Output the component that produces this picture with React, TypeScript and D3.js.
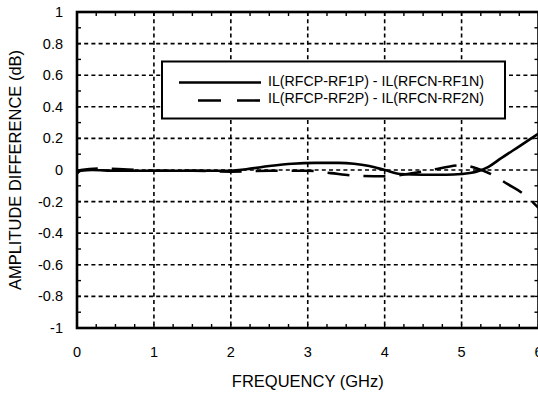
import React from "react";
import * as d3 from "d3";

const freq1 = [0, 0.05, 0.2, 0.5, 1.0, 1.5, 1.9, 2.2, 2.5, 2.8, 3.1, 3.4, 3.6, 3.8, 4.0, 4.2, 4.5, 4.8, 5.0, 5.2, 5.35, 5.5, 5.75, 6.0];
const il1 = [-0.02, -0.005, 0, -0.005, -0.005, -0.005, -0.005, 0.005, 0.025, 0.04, 0.045, 0.045, 0.04, 0.025, 0.0, -0.025, -0.03, -0.03, -0.025, -0.01, 0.02, 0.07, 0.15, 0.23];

const freq2 = [0, 0.05, 0.3, 0.6, 1.0, 1.5, 2.0, 2.5, 3.0, 3.3, 3.6, 4.0, 4.3, 4.6, 5.0, 5.2, 5.4, 5.6, 5.8, 6.0];
const il2 = [-0.02, 0, 0.01, 0.005, -0.005, -0.005, -0.01, -0.005, -0.005, -0.02, -0.035, -0.04, -0.025, 0.0, 0.03, 0.01, -0.03, -0.09, -0.15, -0.24];

const xTicks = [0, 1, 2, 3, 4, 5, 6];
const yTicks = [1, 0.8, 0.6, 0.4, 0.2, 0, -0.2, -0.4, -0.6, -0.8, -1];
const legendLabels = ["IL(RFCP-RF1P) - IL(RFCN-RF1N)", "IL(RFCP-RF2P) - IL(RFCN-RF2N)"];
const xTitle = "FREQUENCY (GHz)";
const yTitle = "AMPLITUDE DIFFERENCE (dB)";

const W = 538, H = 394;
const L = 77, R = 538.5, T = 12, B = 328;
const FONT = "'Liberation Sans', Arial, Helvetica, sans-serif";

export default function App() {
  const x = d3.scaleLinear().domain([0, 6]).range([L, R]);
  const y = d3.scaleLinear().domain([-1, 1]).range([B, T]);
  const line = d3.line<[number, number]>().x(d => x(d[0])).y(d => y(d[1])).curve(d3.curveMonotoneX);
  const s1 = line(freq1.map((f, i) => [f, il1[i]] as [number, number])) || "";
  const s2 = line(freq2.map((f, i) => [f, il2[i]] as [number, number])) || "";
  const xMinor = d3.range(0, 6.001, 0.25);
  const yMinor = d3.range(-1, 1.001, 0.1);

  return (
    <svg width={W} height={H} style={{ position: "absolute", left: 0, top: 0, display: "block" }} fontFamily={FONT}>
      <rect x={0} y={0} width={W} height={H} fill="#fff" />
      <defs>
        <clipPath id="plot"><rect x={L} y={T} width={R - L} height={B - T} /></clipPath>
      </defs>
      {/* grid */}
      {xTicks.slice(1, -1).map(t => (
        <line key={"gx" + t} x1={x(t)} x2={x(t)} y1={T} y2={B} stroke="#000" strokeWidth={1.6} strokeDasharray="4,3.2" />
      ))}
      {yTicks.slice(1, -1).map(t => (
        <line key={"gy" + t} x1={L} x2={R} y1={y(t)} y2={y(t)} stroke="#000" strokeWidth={1.6} strokeDasharray="4,3.2" />
      ))}
      {/* minor ticks */}
      {xMinor.map(t => (
        <g key={"mx" + t}>
          <line x1={x(t)} x2={x(t)} y1={B} y2={B - 4} stroke="#000" strokeWidth={1.4} />
          <line x1={x(t)} x2={x(t)} y1={T} y2={T + 4} stroke="#000" strokeWidth={1.4} />
        </g>
      ))}
      {yMinor.map(t => (
        <g key={"my" + t}>
          <line x1={L} x2={L + 4} y1={y(t)} y2={y(t)} stroke="#000" strokeWidth={1.4} />
          <line x1={R} x2={R - 4} y1={y(t)} y2={y(t)} stroke="#000" strokeWidth={1.4} />
        </g>
      ))}
      {/* data */}
      <g clipPath="url(#plot)">
        <path d={s1} fill="none" stroke="#000" strokeWidth={2.6} />
        <path d={s2} fill="none" stroke="#000" strokeWidth={2.6} strokeDasharray="22,14" />
      </g>
      {/* frame */}
      <rect x={L} y={T} width={R - L} height={B - T} fill="none" stroke="#000" strokeWidth={2.6} />
      {/* legend */}
      <rect x={162} y={61.5} width={343} height={57} fill="#fff" stroke="#000" strokeWidth={2} />
      <line x1={179} x2={261} y1={82.5} y2={82.5} stroke="#000" strokeWidth={2.6} />
      <line x1={260} x2={198} y1={100.5} y2={100.5} stroke="#000" strokeWidth={2.6} strokeDasharray="23,16" />
      <text x={268} y={86} fontSize={14.2}>{legendLabels[0]}</text>
      <text x={268} y={103} fontSize={14.2}>{legendLabels[1]}</text>
      {/* tick labels */}
      {xTicks.map(t => (
        <text key={"xl" + t} x={x(t)} y={357} fontSize={14.5} textAnchor="middle">{t}</text>
      ))}
      {yTicks.map(t => (
        <text key={"yl" + t} x={63} y={y(t) + 5} fontSize={14.5} textAnchor="end">{t === 0 ? "0" : d3.format("~g")(t).replace("−", "-")}</text>
      ))}
      {/* titles */}
      <text x={(L + R) / 2} y={387} fontSize={16.5} textAnchor="middle">{xTitle}</text>
      <text transform={`translate(21,${(T + B) / 2}) rotate(-90)`} fontSize={16.5} textAnchor="middle">{yTitle}</text>
    </svg>
  );
}
